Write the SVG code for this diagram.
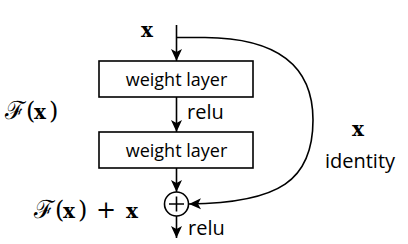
<svg xmlns="http://www.w3.org/2000/svg" width="408" height="244" viewBox="0 0 408 244">
<style>
.box{fill:#fff;stroke:#000;stroke-width:1.6}
.ln{fill:none;stroke:#000;stroke-width:1.6}
.lbl{font-family:"Open Sans",sans-serif;font-size:18px;fill:#000}
.lbl2{font-family:"Open Sans",sans-serif;font-size:20px;fill:#000}
.math{font-family:"DejaVu Serif","Liberation Serif",serif;font-size:24px;fill:#000}
.cal{font-size:25px}
.bx{font-family:"DejaVu Serif","Liberation Serif",serif;font-weight:bold;font-size:20px;fill:#000}
</style>
<defs>
<marker id="ah" markerUnits="userSpaceOnUse" markerWidth="12" markerHeight="12" viewBox="0 0 12 12" refX="12" refY="6" orient="auto">
<path d="M0,0.5 L12,6 L0,11.5 L3,6 Z" fill="#000"/>
</marker>
</defs>
<g id="connectors">
<path class="ln" d="M176.5,25 V61" marker-end="url(#ah)"/>
<path class="ln" d="M176.5,97 V132" marker-end="url(#ah)"/>
<path class="ln" d="M176.5,168 V192" marker-end="url(#ah)"/>
<path class="ln" d="M176.5,216 V238" marker-end="url(#ah)"/>
<path class="ln" d="M176.5,37.5 L205,37.5 C270,38 313,60 313,120 C313,180 280,203 189,204" marker-end="url(#ah)"/>
</g>
<g id="input-x"><text class="bx" x="147" y="37" text-anchor="middle">x</text></g>
<g id="layer1">
<rect class="box" x="99" y="61" width="154" height="36"/>
<text class="lbl" x="176.5" y="85.5" text-anchor="middle">weight layer</text>
</g>
<g id="relu1"><text class="lbl2" x="187" y="119">relu</text></g>
<g id="layer2">
<rect class="box" x="99" y="132" width="154" height="36"/>
<text class="lbl" x="176.5" y="156.5" text-anchor="middle">weight layer</text>
</g>
<g id="fx-label"><text class="math" y="119"><tspan class="cal" x="5">ℱ</tspan><tspan x="26">(</tspan><tspan class="bx" x="34">x</tspan><tspan x="49">)</tspan></text></g>
<g id="sum">
<circle class="ln" cx="176.5" cy="204" r="12"/>
<path class="ln" d="M169,204 H184 M176.5,196.5 V211.5"/>
</g>
<g id="sum-label"><text class="math" y="218"><tspan class="cal" x="34">ℱ</tspan><tspan x="55">(</tspan><tspan class="bx" x="63">x</tspan><tspan x="78">)</tspan><tspan x="96">+</tspan><tspan class="bx" x="126">x</tspan></text></g>
<g id="relu2"><text class="lbl2" x="188" y="235">relu</text></g>
<g id="identity-label">
<text class="bx" x="358" y="136" text-anchor="middle">x</text>
<text class="lbl2" x="360" y="168" text-anchor="middle">identity</text>
</g>
</svg>
